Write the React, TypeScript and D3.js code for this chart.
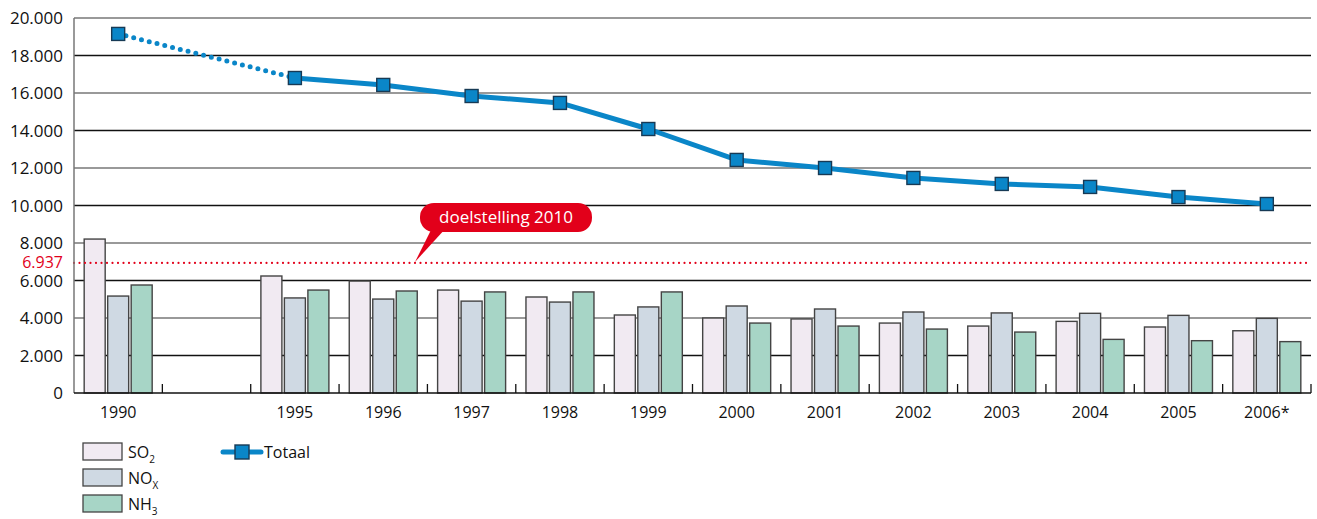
import React from "react";
import * as d3 from "d3";

const years = ["1990", "", "1995", "1996", "1997", "1998", "1999", "2000", "2001", "2002", "2003", "2004", "2005", "2006*"];
const so2 = [8210, null, 6240, 5970, 5490, 5120, 4160, 4000, 3950, 3730, 3570, 3820, 3520, 3320];
const nox = [5170, null, 5070, 5010, 4900, 4850, 4590, 4640, 4480, 4320, 4270, 4250, 4140, 3980];
const nh3 = [5760, null, 5490, 5440, 5390, 5390, 5390, 3730, 3570, 3410, 3250, 2860, 2790, 2740];
const totaal = [19150, null, 16800, 16430, 15840, 15470, 14080, 12430, 12000, 11470, 11150, 10990, 10450, 10080];
const yTicks = [0, 2000, 4000, 6000, 8000, 10000, 12000, 14000, 16000, 18000, 20000];
const target = 6937;
const targetLabel = "doelstelling 2010";

const W = 1317, H = 519;
const left = 74, right = 1311, top = 18, bottom = 393;
const FONT = "'Open Sans', sans-serif";

export default function App() {
  const slots = years.map((_, i) => String(i));
  const x = d3.scaleBand().domain(slots).range([left, right]).padding(0);
  const y = d3.scaleLinear().domain([0, 20000]).range([bottom, top]);
  const fmt = (v: number) => (v === 0 ? "0" : d3.format(",")(v).replace(/,/g, "."));
  const bw = 21, step = 23.5;
  const series = [
    { vals: so2, fill: "#f1eaf2" },
    { vals: nox, fill: "#cfd9e3" },
    { vals: nh3, fill: "#a7d5c6" },
  ];
  const cx = (i: number) => (x(String(i)) as number) + x.bandwidth() / 2;
  const solidPts: [number, number][] = [];
  totaal.forEach((v, i) => { if (v != null && i >= 2) solidPts.push([cx(i), y(v)]); });
  const line = d3.line();
  const blue = "#0a86c8";

  const legendItems = [
    { fill: "#f1eaf2", main: "SO", sub: "2" },
    { fill: "#cfd9e3", main: "NO", sub: "X" },
    { fill: "#a7d5c6", main: "NH", sub: "3" },
  ];

  const ty = y(target);
  return (
    <svg width={W} height={H} style={{ position: "absolute", left: 0, top: 0, fontFamily: FONT }}>
      <rect width={W} height={H} fill="#fff" />
      {yTicks.map((t, k) => (
        <g key={t}>
          {t > 0 && (
            <line x1={left} x2={right} y1={y(t)} y2={y(t)} stroke={k % 2 === 0 ? "#777" : "#111"} strokeWidth={1.3} />
          )}
          <text x={63} y={y(t) + 6} textAnchor="end" fontSize={17} fill="#111">{fmt(t)}</text>
        </g>
      ))}
      <text x={63} y={ty + 5} textAnchor="end" fontSize={16} fill="#e2001a">{fmt(target)}</text>
      {/* bars */}
      {series.map((s, si) =>
        s.vals.map((v, i) =>
          v == null ? null : (
            <rect key={si + "-" + i} x={cx(i) - 34 + si * step} y={y(v)} width={bw} height={bottom - y(v)}
              fill={s.fill} stroke="#444" strokeWidth={1.4} />
          )
        )
      )}
      {/* target line */}
      <line x1={left} x2={right} y1={ty} y2={ty} stroke="#e2001a" strokeWidth={2.2} strokeLinecap="round" strokeDasharray="0 5.5" />
      {/* axes */}
      <line x1={left} x2={left} y1={top} y2={bottom} stroke="#777" strokeWidth={1.5} />
      <line x1={left} x2={right} y1={bottom} y2={bottom} stroke="#111" strokeWidth={1.5} />
      {slots.slice(1).map((s) => (
        <line key={s} x1={x(s) as number} x2={x(s) as number} y1={bottom} y2={bottom - 9} stroke="#111" strokeWidth={1.3} />
      ))}
      <line x1={right} x2={right} y1={bottom} y2={bottom - 9} stroke="#111" strokeWidth={1.3} />
      {years.map((yr, i) => yr && (
        <text key={i} x={cx(i)} y={418} textAnchor="middle" fontSize={16} fill="#111">{yr}</text>
      ))}
      {/* totaal line */}
      <line x1={cx(0)} y1={y(totaal[0] as number)} x2={cx(2)} y2={y(totaal[2] as number)} stroke={blue}
        strokeWidth={5} strokeLinecap="round" strokeDasharray="0 8" />
      <path d={line(solidPts) || ""} fill="none" stroke={blue} strokeWidth={5} strokeLinejoin="round" />
      {totaal.map((v, i) => v == null ? null : (
        <rect key={i} x={cx(i) - 6.5} y={y(v) - 6.5} width={13} height={13} fill={blue} stroke="#173a55" strokeWidth={1.4} />
      ))}
      {/* callout */}
      <path d={`M432,228 L446,228 L${415},${ty - 1} Z`} fill="#e2001a" />
      <rect x={420} y={203} width={172} height={29} rx={14} fill="#e2001a" />
      <text x={506} y={223} textAnchor="middle" fontSize={17} fill="#fff">{targetLabel}</text>
      {/* legend */}
      {legendItems.map((it, k) => (
        <g key={k}>
          <rect x={83} y={443 + k * 26} width={39} height={17} fill={it.fill} stroke="#444" strokeWidth={1.3} />
          <text x={128} y={458 + k * 26} fontSize={16} fill="#111">
            {it.main}<tspan fontSize={10} dy={5}>{it.sub}</tspan>
          </text>
        </g>
      ))}
      <line x1={223} x2={261} y1={452} y2={452} stroke={blue} strokeWidth={5} strokeLinecap="round" />
      <rect x={235} y={445} width={14} height={14} fill={blue} stroke="#173a55" strokeWidth={1.4} />
      <text x={264} y={458} fontSize={16} fill="#111">Totaal</text>
    </svg>
  );
}
